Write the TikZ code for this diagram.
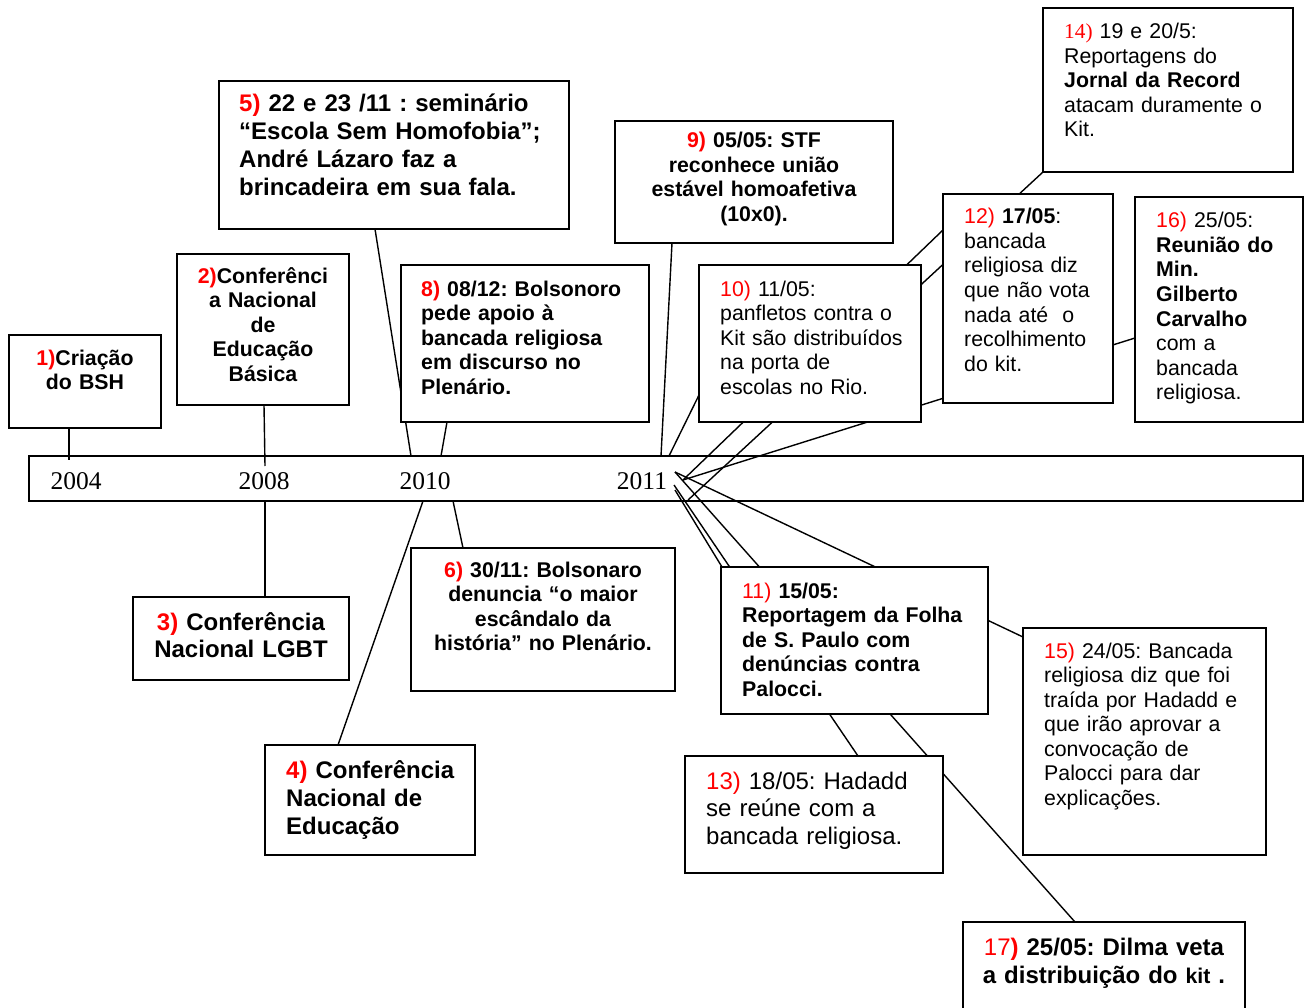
\documentclass[tikz,border=0pt]{standalone}
\usepackage{fontspec}
\setmainfont{Liberation Sans}
\newfontfamily\tnr{Liberation Serif}
\usetikzlibrary{positioning,calc,backgrounds}
\frenchspacing
\newcommand{\evsmall}{\fontsize{21.3}{24.5}\selectfont}
\newcommand{\evbig}{\fontsize{24}{27.7}\selectfont}
\newcommand{\nr}[1]{\textcolor{red}{#1}}
\tikzset{
block/.style = {draw, fill=white, rectangle, line width=1.8pt, inner sep=0pt, outer sep=0pt, anchor=north west},
txt/.style   = {inner sep=0pt, anchor=base west, align=left, font=\evsmall},
ctxt/.style  = {inner sep=0pt, anchor=base, align=center, font=\evsmall},
tmp/.style   = {coordinate},
link/.style  = {line width=1.4pt},
yr/.style    = {inner sep=0pt, anchor=base, font=\tnr\fontsize{25.5}{28}\selectfont}
}

\begin{document}
\begin{tikzpicture}[x=1pt, y=-1pt]
  \useasboundingbox (0,0) rectangle (1305,1008);

  % time line
  \node [draw, line width=1.5pt, inner sep=0pt, outer sep=0pt, anchor=north west,
         minimum width=1274, minimum height=45]          (bar)    at (29,456) {};
  \node [yr]                                            (y2004)  at (76,489)  {2004};
  \node [yr]                                            (y2008)  at (264,489) {2008};
  \node [yr]                                            (y2010)  at (425,489) {2010};
  \node [yr]                                            (y2011)  at (642,489) {2011};

  % boxes
  \node [block, minimum width=152, minimum height=93]   (box1)   at (9,335)    {};
  \node [block, minimum width=172, minimum height=151]  (box2)   at (177,254)  {};
  \node [block, minimum width=216, minimum height=83]   (box3)   at (133,597)  {};
  \node [block, minimum width=210, minimum height=110]  (box4)   at (265,745)  {};
  \node [block, minimum width=350, minimum height=148]  (box5)   at (219,81)   {};
  \node [block, minimum width=264, minimum height=143]  (box6)   at (411,548)  {};
  \node [block, minimum width=248, minimum height=157]  (box8)   at (401,265)  {};
  \node [block, minimum width=278, minimum height=122]  (box9)   at (615,121)  {};
  \node [block, minimum width=222, minimum height=157]  (box10)  at (699,265)  {};
  \node [block, minimum width=267, minimum height=147]  (box11)  at (721,567)  {};
  \node [block, minimum width=170, minimum height=209]  (box12)  at (943,194)  {};
  \node [block, minimum width=258, minimum height=117]  (box13)  at (685,756)  {};
  \node [block, minimum width=250, minimum height=164]  (box14)  at (1043,8)   {};
  \node [block, minimum width=243, minimum height=227]  (box15)  at (1023,628) {};
  \node [block, minimum width=168, minimum height=225]  (box16)  at (1135,197) {};
  \node [block, minimum width=282, minimum height=110]  (box17)  at (963,922)  {};

  % texts
  \node [ctxt, text width=145, font=\evsmall\bfseries]  (txt1)  at ([yshift=-30]box1.north)
        {\nr{1)}Criação\\do BSH};
  \node [ctxt, text width=165, font=\evsmall\bfseries]  (txt2)  at ([yshift=-29]box2.north)
        {\nr{2)}Conferênci\\a Nacional\\de\\Educação\\Básica};
  \node [ctxt, text width=205, font=\evbig\bfseries]    (txt3)  at ([yshift=-33]box3.north)
        {\nr{3)} Conferência\\Nacional LGBT};
  \node [txt, text width=185, font=\fontsize{24}{28.2}\selectfont\bfseries]
        (txt4)  at ([shift={(21,33)}]box4.north west)
        {\nr{4)} Conferência\\Nacional de\\Educação};
  \node [txt, text width=325, font=\evbig\bfseries]     (txt5)  at ([shift={(20,31)}]box5.north west)
        {\nr{5)} 22 e 23 /11 : seminário\\“Escola Sem Homofobia”;\\André Lázaro faz a\\brincadeira em sua fala.};
  \node [ctxt, text width=255, font=\evsmall\bfseries]  (txt6)  at ([yshift=-29]box6.north)
        {\nr{6)} 30/11: Bolsonaro\\denuncia “o maior\\escândalo da\\história” no Plenário.};
  \node [txt, text width=225, font=\evsmall\bfseries]   (txt8)  at ([shift={(20,31)}]box8.north west)
        {\nr{8)} 08/12: Bolsonoro\\pede apoio à\\bancada religiosa\\em discurso no\\Plenário.};
  \node [ctxt, text width=265, font=\evsmall\bfseries]  (txt9)  at ([yshift=-27]box9.north)
        {\nr{9)} 05/05: STF\\reconhece união\\estável homoafetiva\\(10x0).};
  \node [txt, text width=200]                           (txt10) at ([shift={(21,31)}]box10.north west)
        {\nr{10)} 11/05:\\panfletos contra o\\Kit são distribuídos\\na porta de\\escolas no Rio.};
  \node [txt, text width=245, font=\evsmall\bfseries]   (txt11) at ([shift={(21,31)}]box11.north west)
        {\nr{\mdseries 11)} 15/05:\\Reportagem da Folha\\de S. Paulo com\\denúncias contra\\Palocci.};
  \node [txt, text width=150]                           (txt12) at ([shift={(21,30)}]box12.north west)
        {\nr{12)} \textbf{17/05}:\\bancada\\religiosa diz\\que não vota\\nada até~ o\\recolhimento\\do kit.};
  \node [txt, text width=235, font=\evbig]              (txt13) at ([shift={(21,33)}]box13.north west)
        {\nr{13)} 18/05: Hadadd\\se reúne com a\\bancada religiosa.};
  \node [txt, text width=225]                           (txt14) at ([shift={(21,31)}]box14.north west)
        {{\tnr\nr{14)}} 19 e 20/5:\\Reportagens do\\\textbf{Jornal da Record}\\atacam duramente o\\Kit.};
  \node [txt, text width=220]                           (txt15) at ([shift={(21,30)}]box15.north west)
        {\nr{15)} 24/05: Bancada\\religiosa diz que foi\\traída por Hadadd e\\que irão aprovar a\\convocação de\\Palocci para dar\\explicações.};
  \node [txt, text width=145]                           (txt16) at ([shift={(21,31)}]box16.north west)
        {\nr{16)} 25/05:\\\textbf{Reunião do}\\\textbf{Min.}\\\textbf{Gilberto}\\\textbf{Carvalho}\\com a\\bancada\\religiosa.};
  \node [ctxt, text width=270, font=\fontsize{24}{28}\selectfont\bfseries]
        (txt17) at ([yshift=-33]box17.north)
        {\nr{\mdseries 17\bfseries)} 25/05: Dilma veta\\a distribuição do {\evsmall kit} .};

  % ends on the time line
  \node [tmp] (k1)  at (69,460)  {};
  \node [tmp] (k2)  at (265,466) {};
  \node [tmp] (k3)  at (265,501) {};
  \node [tmp] (k4)  at (423,501) {};
  \node [tmp] (k5)  at (411,456) {};
  \node [tmp] (k6)  at (453,501) {};
  \node [tmp] (k8)  at (441,456) {};
  \node [tmp] (k9)  at (661,456) {};
  \node [tmp] (k10) at (669,456) {};
  \node [tmp] (sA)  at (683,480) {};
  \node [tmp] (sB)  at (688,500) {};
  \node [tmp] (sD)  at (675,472) {};
  \node [tmp] (sE)  at (674,485) {};
  \node [tmp] (sF)  at (675,490) {};

  \begin{scope}[on background layer]
    \draw [link] ([xshift=60]box1.south west) -- (k1);
    \draw [link] ([xshift=87]box2.south west) -- (k2);
    \draw [link] ([xshift=132]box3.north west) -- (k3);
    \draw [link] ([xshift=73]box4.north west) -- (k4);
    \draw [link] ([xshift=156]box5.south west) -- (k5);
    \draw [link] ([xshift=52]box6.north west) -- (k6);
    \draw [link] ([xshift=46]box8.south west) -- (k8);
    \draw [link] ([xshift=57]box9.south west) -- (k9);
    \draw [link] ([yshift=-130]box10.north west) -- (k10);
    \draw [link] (sF) -- ([xshift=1]box11.north west);
    \draw [link] (sA) -- ([yshift=-36]box12.north west);
    \draw [link] (sE) -- ([xshift=173]box13.north west);
    \draw [link] (sB) -- (box14.south west);
    \draw [link] (sD) -- ([yshift=-9]box15.north west);
    \draw [link] (sA) -- ([yshift=-141]box16.north west);
    \draw [link] (sD) -- ([xshift=112]box17.north west);
  \end{scope}
\end{tikzpicture}
\end{document}
